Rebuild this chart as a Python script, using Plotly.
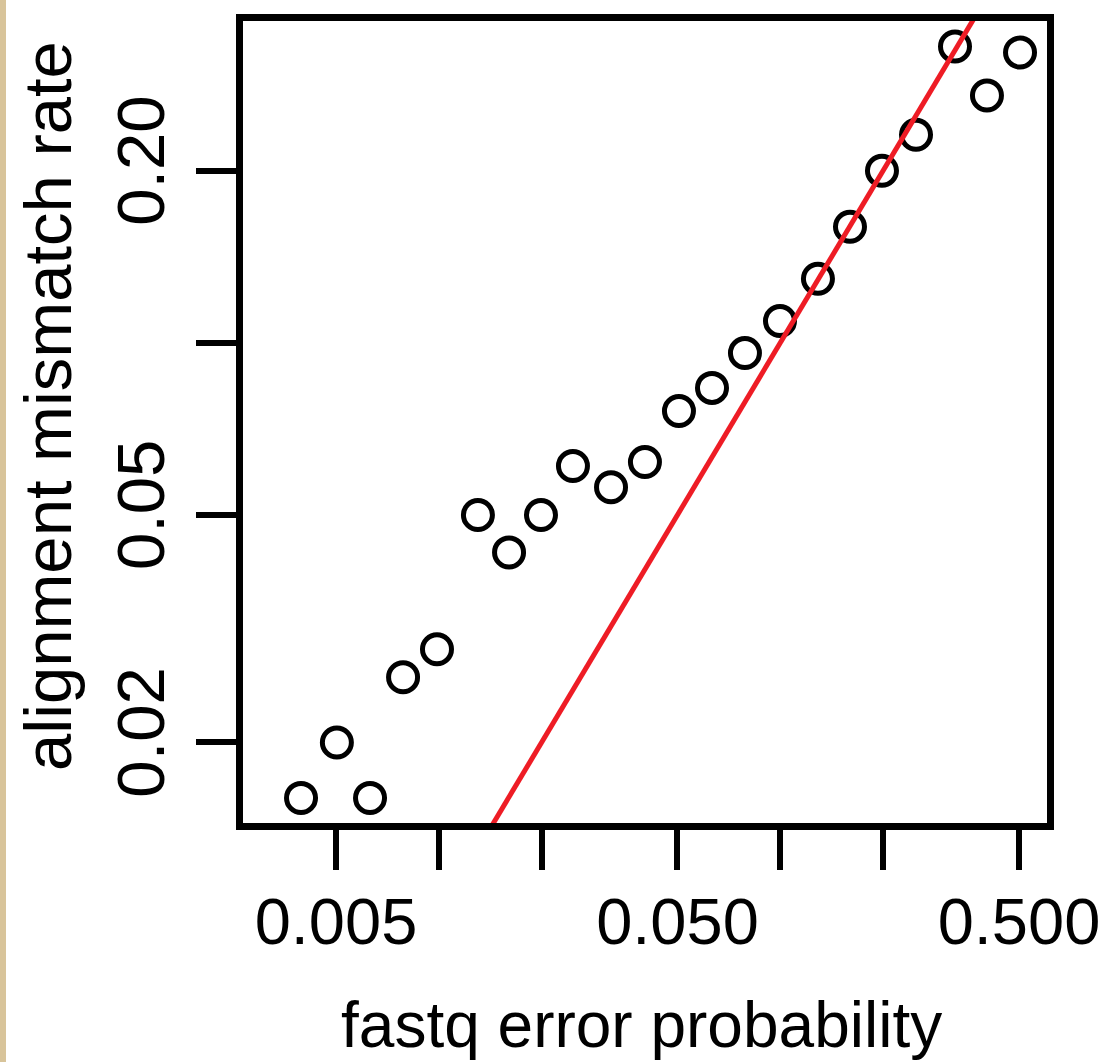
import plotly.graph_objects as go

# Data
fastq_error_prob = [0.00395, 0.00503, 0.00629, 0.00786, 0.00988, 0.01302, 0.01606,
                    0.01992, 0.02471, 0.03194, 0.04015, 0.0505, 0.0631, 0.0788,
                    0.0998, 0.1289, 0.1600, 0.1985, 0.2497, 0.3248, 0.4029, 0.5035]
mismatch_rate = [0.0160, 0.0200, 0.0160, 0.0260, 0.0291, 0.0500, 0.0430, 0.0500,
                 0.0609, 0.0559, 0.0619, 0.0760, 0.0834, 0.0960, 0.1092, 0.1294,
                 0.1596, 0.2000, 0.2312, 0.3298, 0.2706, 0.3218]
identity_ref = [0.001, 1.0]  # y = x reference line

x_tickvals = [0.005, 0.01, 0.02, 0.05, 0.1, 0.2, 0.5]
x_ticktext = ["0.005", "", "", "0.050", "", "", "0.500"]
y_tickvals = [0.02, 0.05, 0.1, 0.2]
y_ticktext = ["0.02", "0.05", "", "0.20"]

FONT = "Liberation Sans, Arial, sans-serif"

fig = go.Figure()
fig.add_trace(go.Scatter(
    x=fastq_error_prob, y=mismatch_rate, mode="markers",
    marker=dict(symbol="circle-open", size=29, color="black",
                line=dict(width=5, color="black")),
    showlegend=False, hoverinfo="skip"))
fig.add_trace(go.Scatter(
    x=identity_ref, y=identity_ref, mode="lines",
    line=dict(color="#EE1C25", width=5), showlegend=False, hoverinfo="skip"))

L, R, T, B = 243, 60, 21, 239
W, H = 1107, 1062
pw, ph = W - L - R, H - T - B

fig.update_layout(
    width=W, height=H,
    margin=dict(l=L, r=R, t=T, b=B, autoexpand=False),
    paper_bgcolor="white", plot_bgcolor="white",
    font=dict(family=FONT, color="black"),
    xaxis=dict(type="log", range=[-2.5733, -0.2190],
               tickvals=x_tickvals, ticktext=x_ticktext,
               ticks="outside", ticklen=40, tickwidth=6, tickcolor="black",
               showline=True, linewidth=7, linecolor="black", mirror=True,
               showgrid=False, zeroline=False,
               tickfont=dict(size=65, family=FONT, color="black"),
               ticklabelstandoff=-4),
    yaxis=dict(type="log", range=[-1.8398, -0.4372],
               tickvals=y_tickvals, ticktext=y_ticktext, tickangle=-90,
               ticks="outside", ticklen=40, tickwidth=6, tickcolor="black",
               showline=True, linewidth=7, linecolor="black", mirror=True,
               showgrid=False, zeroline=False,
               tickfont=dict(size=67, family=FONT, color="black"),
               ticklabelstandoff=5),
    shapes=[dict(type="rect", xref="paper", yref="paper",
                 x0=(0 - L) / pw, x1=(6 - L) / pw,
                 y0=-B / ph, y1=1 + T / ph,
                 fillcolor="#D8C49A", line=dict(width=0), layer="above")],
    annotations=[
        dict(text="fastq error probability", xref="paper", yref="paper",
             x=(641 - L) / pw, y=-(1025 - (H - B)) / ph,
             xanchor="center", yanchor="middle", showarrow=False,
             font=dict(size=64, family=FONT, color="black")),
        dict(text="alignment mismatch rate", xref="paper", yref="paper",
             x=-(L - 47) / pw, y=1 - (406 - T) / ph, textangle=-90,
             xanchor="center", yanchor="middle", showarrow=False,
             font=dict(size=67, family=FONT, color="black")),
    ],
)

fig.write_html("out.html", config={"displayModeBar": False},
               post_script="document.body.style.margin='0';")
